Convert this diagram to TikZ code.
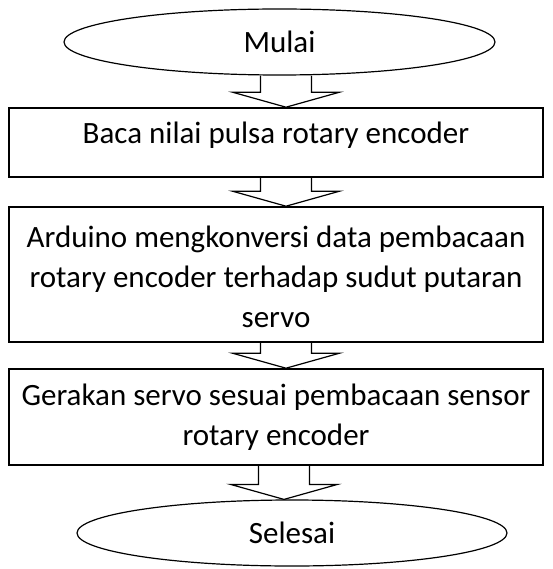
\documentclass[tikz,border=0pt]{standalone}
\usepackage{fontspec}
\setmainfont{Carlito}
\usetikzlibrary{shapes.geometric,calc}
\tikzset{
  term/.style={ellipse,draw,line width=1.2pt,inner sep=0pt,font=\fontsize{31}{40}\selectfont},
  procbox/.style={rectangle,draw,line width=1.6pt,inner sep=0pt,align=center,font=\fontsize{31}{40}\selectfont},
  blk/.style={draw,line width=1.2pt,line join=miter}
}
% box content: fixed-size box, text top-aligned with first baseline #2 below the top
\newcommand\boxtext[3]{\parbox[c][#1][t]{534pt}{\centering\rule{0pt}{#2}#3\par}}
\newcommand\blockarr[3]{%
  \draw[blk] let \p1=(#1.south), \p2=(#2.north) in
    (#3-25.5,\y1) -- (#3-25.5,\y2+15) -- (#3-53.5,\y2+15) -- (#3,\y2)
    -- (#3+53.5,\y2+15) -- (#3+25.5,\y2+15) -- (#3+25.5,\y1);}
\begin{document}
\begin{tikzpicture}[x=1pt,y=-1pt]
\useasboundingbox (0,0) rectangle (552,569);
\node[term,minimum width=431pt,minimum height=66pt] (mulai) at (279.5,42) {Mulai};
\node[procbox] (b1) at (276,142.5) {\boxtext{69pt}{36pt}{Baca nilai pulsa rotary encoder}};
\node[procbox] (b2) at (276,274.5) {\boxtext{135pt}{40pt}{Arduino mengkonversi data pembacaan\\rotary encoder terhadap sudut putaran\\servo}};
\node[procbox] (b3) at (276,417) {\boxtext{96pt}{36pt}{Gerakan servo sesuai pembacaan sensor\\rotary encoder}};
\node[term,minimum width=430pt,minimum height=66pt] (selesai) at (292,533) {Selesai};
\blockarr{mulai}{b1}{286}
\blockarr{b1}{b2}{286}
\blockarr{b2}{b3}{286}
\blockarr{b3}{selesai}{284}
\end{tikzpicture}
\end{document}
